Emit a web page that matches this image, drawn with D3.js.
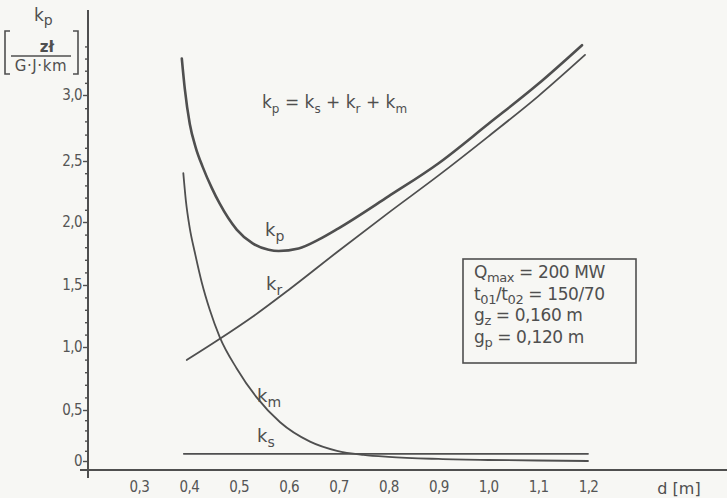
<!DOCTYPE html>
<html>
<head>
<meta charset="utf-8">
<script src="https://cdn.jsdelivr.net/npm/d3@7"></script>
<style>
  html, body { margin: 0; padding: 0; background: #f7f7f4; }
  svg { display: block; }
  text { fill: #4f4f4f; font-family: "DejaVu Sans", sans-serif; }
  .tick text { font-family: "DejaVu Sans Condensed", "DejaVu Sans", sans-serif; font-size: 15px; letter-spacing: -0.6px; fill: #555; }
</style>
</head>
<body>
<div id="chart"></div>
<script>
// ---------------------------------------------------------------------------
// Data

const xTicks = [0.3, 0.4, 0.5, 0.6, 0.7, 0.8, 0.9, 1.0, 1.1, 1.2];
const yTicks = [0, 0.5, 1.0, 1.5, 2.0, 2.5, 3.0];

// k_p = k_s + k_r + k_m
const kpD = [0.386, 0.392, 0.402, 0.414, 0.428, 0.446, 0.462, 0.496, 0.528, 0.56, 0.58, 0.62, 0.66, 0.7, 0.8, 0.9, 1.0, 1.1, 1.188];
const kpV = [3.30, 3.05, 2.78, 2.60, 2.45, 2.28, 2.15, 1.94, 1.83, 1.78, 1.77, 1.79, 1.86, 1.95, 2.21, 2.48, 2.78, 3.09, 3.41];

const krD = [0.396, 0.46, 0.53, 0.6, 0.7, 0.8, 0.9, 1.0, 1.1, 1.194];
const krV = [0.897, 1.06, 1.25, 1.46, 1.77, 2.075, 2.38, 2.685, 2.99, 3.33];

const kmD = [0.389, 0.394, 0.402, 0.412, 0.426, 0.442, 0.462, 0.496, 0.536, 0.583, 0.643, 0.697, 0.75, 0.8, 0.9, 1.0, 1.1, 1.2];
const kmV = [2.40, 2.18, 1.95, 1.76, 1.52, 1.30, 1.08, 0.83, 0.60, 0.38, 0.19, 0.10, 0.06, 0.04, 0.02, 0.01, 0.005, 0.0];

const ksD = [0.39, 1.2];
const ksV = [0.07, 0.07];

// ---------------------------------------------------------------------------
// Layout

const width = 727;
const height = 498;
const ink = '#4f4f4f';

const svg = d3.select('#chart')
  .append('svg')
  .attr('width', width)
  .attr('height', height);

// hand drawn axis: spacing of the y ticks is not quite even
const x = d3.scaleLinear().domain([0.2, 1.2]).range([89, 588]);
const y = d3.scaleLinear()
  .domain([0, 0.5, 1.0, 1.5, 2.0, 2.5, 3.0, 3.7])
  .range([461, 410, 347, 285, 222, 161, 95, 10]);

const comma = (v) => (v === 0 ? '0' : d3.format('.1f')(v).replace('.', ','));

// axis lines
svg.append('line')
  .attr('x1', 88).attr('x2', 88)
  .attr('y1', 10).attr('y2', 478)
  .attr('stroke', ink).attr('stroke-width', 2);
svg.append('line')
  .attr('x1', 80).attr('x2', width)
  .attr('y1', 470).attr('y2', 470)
  .attr('stroke', ink).attr('stroke-width', 2);

// y axis: major + minor ticks
const yMajor = svg.append('g')
  .attr('transform', 'translate(88,0)')
  .call(d3.axisLeft(y).tickValues(yTicks).tickSize(5).tickPadding(1).tickFormat(comma));
const yMinor = svg.append('g')
  .attr('transform', 'translate(88,0)')
  .call(d3.axisLeft(y).tickValues(d3.range(1, 36).map(i => i / 10).filter(v => Math.round(v * 10) % 5 !== 0))
    .tickSize(3).tickFormat(''));
[yMajor, yMinor].forEach(g => {
  g.select('.domain').remove();
  g.selectAll('.tick line').attr('stroke', ink).attr('stroke-width', 1.4);
});

// x axis labels only
const xAxis = svg.append('g')
  .attr('transform', 'translate(0,470)')
  .call(d3.axisBottom(x).tickValues(xTicks).tickSize(0).tickPadding(11).tickFormat(comma));
xAxis.select('.domain').remove();

svg.append('text')
  .attr('x', 679).attr('y', 494)
  .attr('text-anchor', 'middle')
  .style('font-size', '16px')
  .text('d [m]');

// y axis title
const title = svg.append('g');
title.append('text')
  .attr('x', 34).attr('y', 21)
  .style('font-size', '17px')
  .html('k<tspan dy="4" font-size="14px">p</tspan>');
title.append('text')
  .attr('x', 47).attr('y', 52)
  .attr('text-anchor', 'middle')
  .style('font-size', '15px')
  .style('font-weight', 'bold')
  .text('zł');
title.append('line')
  .attr('x1', 11).attr('x2', 71)
  .attr('y1', 56).attr('y2', 56)
  .attr('stroke', ink).attr('stroke-width', 1.4);
title.append('text')
  .attr('x', 41).attr('y', 71)
  .attr('text-anchor', 'middle')
  .style('font-size', '15px')
  .style('letter-spacing', '0.6px')
  .text('G·J·km');
title.append('path')
  .attr('d', 'M10,31 H5 V74 H10 M73,31 H78 V74 H73')
  .attr('fill', 'none')
  .attr('stroke', ink).attr('stroke-width', 1.6);

// curves
const line = d3.line()
  .x(d => x(d[0]))
  .y(d => y(d[1]))
  .curve(d3.curveMonotoneX);

const curves = [
  { d: kpD, v: kpV, w: 2.6 },
  { d: krD, v: krV, w: 1.8 },
  { d: kmD, v: kmV, w: 1.8 },
  { d: ksD, v: ksV, w: 1.8 }
];

svg.append('g')
  .selectAll('path')
  .data(curves)
  .enter()
  .append('path')
  .attr('d', c => line(d3.zip(c.d, c.v)))
  .attr('fill', 'none')
  .attr('stroke', ink)
  .attr('stroke-width', c => c.w)
  .attr('stroke-linecap', 'round');

// curve labels
const sub = (main, s) => `${main}<tspan dy="5" font-size="14px">${s}</tspan>`;
const labels = [
  { x: 265, y: 236, t: sub('k', 'p') },
  { x: 266, y: 290, t: sub('k', 'r') },
  { x: 257, y: 402, t: sub('k', 'm') },
  { x: 257, y: 442, t: sub('k', 's') }
];
svg.append('g')
  .selectAll('text')
  .data(labels)
  .enter()
  .append('text')
  .attr('x', l => l.x)
  .attr('y', l => l.y)
  .style('font-size', '18px')
  .html(l => l.t);

// formula
svg.append('text')
  .attr('x', 262).attr('y', 108)
  .style('font-size', '17px')
  .html(`k<tspan dy="5" font-size="12px">p</tspan><tspan dy="-5"> = k</tspan><tspan dy="5" font-size="12px">s</tspan><tspan dy="-5"> + k</tspan><tspan dy="5" font-size="12px">r</tspan><tspan dy="-5"> + k</tspan><tspan dy="5" font-size="12px">m</tspan>`);

// parameter box
svg.append('rect')
  .attr('x', 463).attr('y', 259)
  .attr('width', 173).attr('height', 104)
  .attr('fill', 'none')
  .attr('stroke', ink).attr('stroke-width', 1.6);

const boxLines = [
  `Q<tspan dy="4" font-size="13px">max</tspan><tspan dy="-4"> = 200 MW</tspan>`,
  `t<tspan dy="4" font-size="13px">01</tspan><tspan dy="-4">/t</tspan><tspan dy="4" font-size="13px">02</tspan><tspan dy="-4"> = 150/70</tspan>`,
  `g<tspan dy="4" font-size="13px">z</tspan><tspan dy="-4"> = 0,160 m</tspan>`,
  `g<tspan dy="4" font-size="13px">p</tspan><tspan dy="-4"> = 0,120 m</tspan>`
];
svg.append('g')
  .selectAll('text')
  .data(boxLines)
  .enter()
  .append('text')
  .attr('x', 474)
  .attr('y', (d, i) => 278 + i * 21.5)
  .style('font-size', '17px')
  .style('letter-spacing', '-0.4px')
  .html(d => d);
</script>
</body>
</html>
